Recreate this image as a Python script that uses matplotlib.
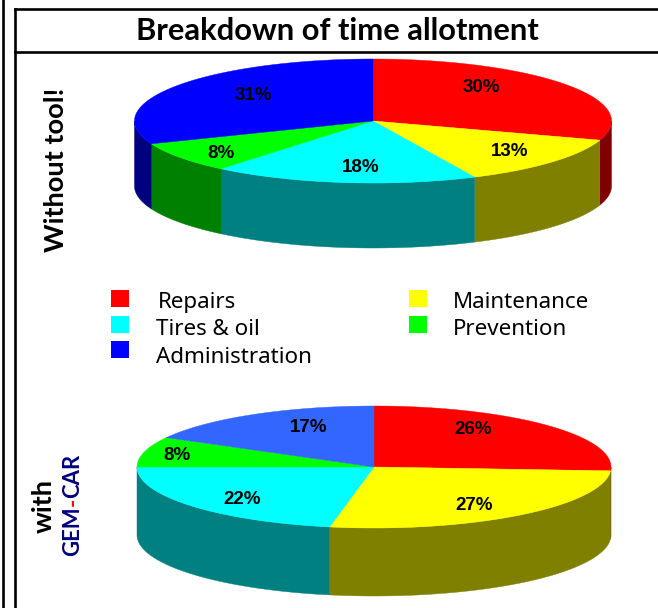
#!/usr/bin/env python
# -*- encoding: utf-8 -*-

'''two 3d looking pies, time allotment with and without the tool
'''

import numpy as np
import matplotlib
matplotlib.use('Agg')
import matplotlib.pyplot as plt
from matplotlib.patches import Rectangle

categories = ['Repairs', 'Maintenance', 'Tires & oil', 'Prevention', 'Administration']
values_without = [30, 13, 18, 8, 31]
values_with = [26, 27, 22, 8, 17]

top_colors = ['#ff0000', '#ffff00', '#00ffff', '#00ff00', '#0000ff']
wall_colors = ['#800000', '#808000', '#008080', '#008000', '#000080']
top_colors_with = ['#ff0000', '#ffff00', '#00ffff', '#00ff00', '#3366ff']

TEXT_FONT = 'Noto Sans'
BOLD_FONT = 'Lato'
LABEL_FONT = 'Liberation Sans'


def draw_pie(ax, values, colors, cx, cy, rx, ry, depth, label_pos):
    edges = np.cumsum([0] + values) / 100.0 * 2 * np.pi
    # walls first, only the front half can be seen
    for start, end, color in zip(edges[:-1], edges[1:], wall_colors):
        a0, a1 = max(start, np.pi / 2), min(end, 3 * np.pi / 2)
        if a1 <= a0:
            continue
        t = np.linspace(a0, a1, 200)
        x = cx + rx * np.sin(t)
        y = cy - ry * np.cos(t)
        ax.fill(np.r_[x, x[::-1]], np.r_[y, y[::-1] + depth], color=color, lw=0.3, zorder=2)
    for start, end, color in zip(edges[:-1], edges[1:], colors):
        t = np.linspace(start, end, 200)
        x = np.r_[cx, cx + rx * np.sin(t)]
        y = np.r_[cy, cy - ry * np.cos(t)]
        ax.fill(x, y, color=color, lw=0.3, zorder=3)
    for value, (lx, ly) in zip(values, label_pos):
        ax.text(lx, ly, '{}%'.format(value), family=LABEL_FONT, weight='bold', fontsize=13.5,
                color='black', ha='center', va='center', zorder=4)


def draw_frame(ax):
    ax.plot([3, 3], [0, 608], color='black', lw=1.9, zorder=5)
    ax.plot([15, 15], [9, 608], color='black', lw=1.9, zorder=5)
    ax.plot([15, 658], [9, 9], color='black', lw=1.9, zorder=5)
    ax.plot([15, 658], [52, 52], color='black', lw=1.9, zorder=5)


def draw_legend(ax):
    boxes = [(111, 290), (409, 290), (111, 316), (409, 316), (111, 341)]
    texts = [(158, 308), (453, 308), (156, 335), (453, 335), (156, 363)]
    for name, color, (bx, by), (tx, ty) in zip(categories, top_colors, boxes, texts):
        ax.add_patch(Rectangle((bx, by), 18, 17, color=color, lw=0, zorder=3))
        ax.text(tx, ty, name, family=TEXT_FONT, fontsize=16.1, ha='left', va='baseline', color='black')


def draw_side_labels(fig, ax):
    ax.text(56, 170, 'Without tool!', family=BOLD_FONT, weight='bold', fontsize=19.6,
            rotation=90, ha='center', va='center', color='black')
    ax.text(44, 506, 'with', family=BOLD_FONT, weight='bold', fontsize=19.6,
            rotation=90, ha='center', va='center', color='black')
    # GEM-CAR goes up the page in three colored pieces
    renderer = fig.canvas.get_renderer()
    y = 556
    for piece, color in zip(['GEM', '-', 'CAR'], ['#000080', '#ff0000', '#000080']):
        t = ax.text(73, y, piece, family=BOLD_FONT, weight='bold', fontsize=15.9, rotation=90,
                    rotation_mode='anchor', ha='left', va='center', color=color)
        y -= t.get_window_extent(renderer).height


def main():
    fig = plt.figure(figsize=(6.58, 6.08), dpi=100)
    ax = fig.add_axes([0, 0, 1, 1])
    ax.set_xlim(0, 658)
    ax.set_ylim(608, 0)
    ax.axis('off')

    draw_frame(ax)
    ax.text(337, 31, 'Breakdown of time allotment', family=BOLD_FONT, weight='bold',
            fontsize=22.2, ha='center', va='center', color='black')
    draw_pie(ax, values_without, top_colors, 373, 121, 238.5, 62, 65,
             [(481.5, 88), (510, 152), (361, 168), (221.5, 154), (253, 95)])
    draw_pie(ax, values_with, top_colors_with, 374, 467, 237, 61, 68,
             [(473, 430), (474, 505), (242, 499), (177, 455), (309, 428)])
    draw_legend(ax)
    draw_side_labels(fig, ax)
    fig.savefig('out.png', dpi=100)


if __name__ == '__main__':
    main()
